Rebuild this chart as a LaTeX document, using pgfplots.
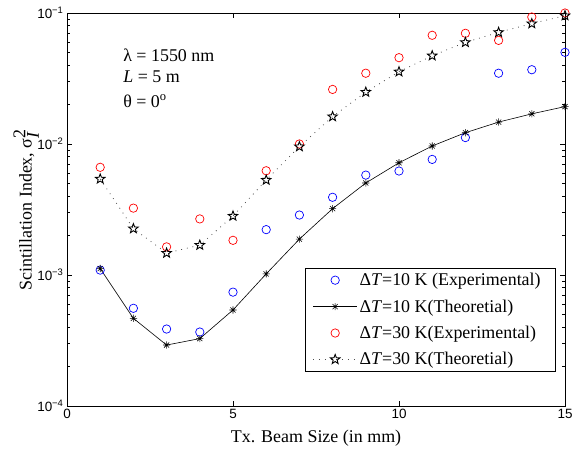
\documentclass[border=0pt]{standalone}
\usepackage{pgfplots}
\pgfplotsset{compat=1.18}
\usepackage{fontspec}
\setmainfont{Liberation Serif}
\newfontfamily\ticksf{Liberation Sans}

\pgfdeclareplotmark{pentagram}{%
  \pgfpathmoveto{\pgfpointpolar{90}{\pgfplotmarksize}}%
  \pgfpathlineto{\pgfpointpolar{126}{0.42\pgfplotmarksize}}%
  \pgfpathlineto{\pgfpointpolar{162}{\pgfplotmarksize}}%
  \pgfpathlineto{\pgfpointpolar{198}{0.42\pgfplotmarksize}}%
  \pgfpathlineto{\pgfpointpolar{234}{\pgfplotmarksize}}%
  \pgfpathlineto{\pgfpointpolar{270}{0.42\pgfplotmarksize}}%
  \pgfpathlineto{\pgfpointpolar{306}{\pgfplotmarksize}}%
  \pgfpathlineto{\pgfpointpolar{342}{0.42\pgfplotmarksize}}%
  \pgfpathlineto{\pgfpointpolar{18}{\pgfplotmarksize}}%
  \pgfpathlineto{\pgfpointpolar{54}{0.42\pgfplotmarksize}}%
  \pgfpathclose
  \pgfusepathqstroke}
\pgfdeclareplotmark{mstar}{%
  \pgfpathmoveto{\pgfqpoint{-\pgfplotmarksize}{0pt}}%
  \pgfpathlineto{\pgfqpoint{\pgfplotmarksize}{0pt}}%
  \pgfpathmoveto{\pgfqpoint{0pt}{-\pgfplotmarksize}}%
  \pgfpathlineto{\pgfqpoint{0pt}{\pgfplotmarksize}}%
  \pgfpathmoveto{\pgfpointpolar{45}{\pgfplotmarksize}}%
  \pgfpathlineto{\pgfpointpolar{225}{\pgfplotmarksize}}%
  \pgfpathmoveto{\pgfpointpolar{135}{\pgfplotmarksize}}%
  \pgfpathlineto{\pgfpointpolar{315}{\pgfplotmarksize}}%
  \pgfusepathqstroke}

\pgfplotstableread{
x y
1 1.09e-3
2 5.57e-4
3 3.87e-4
4 3.67e-4
5 7.4e-4
6 2.22e-3
7 2.87e-3
8 3.92e-3
9 5.79e-3
10 6.22e-3
11 7.63e-3
12 1.12e-2
13 3.47e-2
14 3.69e-2
15 5.01e-2
}\expten

\pgfplotstableread{
x y
1 1.12e-3
2 4.67e-4
3 2.92e-4
4 3.27e-4
5 5.41e-4
6 1.02e-3
7 1.88e-3
8 3.21e-3
9 5.04e-3
10 7.19e-3
11 9.66e-3
12 1.22e-2
13 1.47e-2
14 1.70e-2
15 1.93e-2
}\theoten

\pgfplotstableread{
x y
1 6.64e-3
2 3.24e-3
3 1.64e-3
4 2.68e-3
5 1.84e-3
6 6.25e-3
7 1.0e-2
8 2.61e-2
9 3.47e-2
10 4.56e-2
11 6.76e-2
12 7.0e-2
13 6.18e-2
14 9.32e-2
15 1.0e-1
}\expthirty

\pgfplotstableread{
x y
1 5.41e-3
2 2.26e-3
3 1.47e-3
4 1.69e-3
5 2.82e-3
6 5.31e-3
7 9.55e-3
8 1.62e-2
9 2.49e-2
10 3.56e-2
11 4.72e-2
12 5.97e-2
13 7.12e-2
14 8.3e-2
15 9.55e-2
}\theothirty

\begin{document}
\begin{tikzpicture}
\path[use as bounding box] (-67bp,-46bp) rectangle (506bp,406bp);
\begin{axis}[
  at={(0,0)}, anchor=south west,
  scale only axis,
  width=498bp, height=393bp,
  ymode=log,
  xmin=0, xmax=15, ymin=1e-4, ymax=1e-1,
  xtick={0,5,10,15},
  xticklabels={0,5,10,15},
  ytick={1e-4,1e-3,1e-2,1e-1},
  yticklabels={10\textsuperscript{−4},10\textsuperscript{−3},10\textsuperscript{−2},10\textsuperscript{−1}},
  tick label style={font=\fontsize{13.5}{16}\ticksf},
  tick align=inside,
  xtick pos=both, ytick pos=both,
  major tick length=5bp, minor tick length=3bp,
  axis line style={line width=0.8bp},
  every tick/.style={black, line width=0.6bp},
  xlabel={Tx. Beam Size (in mm)},
  ylabel={Scintillation Index, σ$^{\textrm{2}}_{\textit{I}}$},
  label style={font=\fontsize{18}{21}\selectfont},
  xlabel style={at={(axis description cs:0.5,-0.081)}, anchor=center},
  ylabel style={at={(axis description cs:-0.082,0.5)}, anchor=center},
  legend style={at={(0.982,0.087)}, anchor=south east, draw=black, line width=0.8bp,
    font=\fontsize{18}{21}\selectfont, inner xsep=7bp, inner ysep=3bp,
    row sep=8.5bp, cells={anchor=west}},
  legend image code/.code={\draw[mark repeat=2,mark phase=2,#1] plot coordinates {(0bp,0bp) (22bp,0bp) (44bp,0bp)};},
]
\addplot[only marks, mark=o, mark size=4.2bp, blue, mark options={line width=0.7bp}] table {\expten};
\addlegendentry{Δ\textit{T}=10 K (Experimental)\hspace*{6bp}}
\addplot[black, line width=0.6bp, mark=mstar, mark size=3.6bp, mark options={line width=0.6bp, solid}] table {\theoten};
\addlegendentry{Δ\textit{T}=10 K(Theoretial)}
\addplot[only marks, mark=o, mark size=4.2bp, red, mark options={line width=0.7bp}] table {\expthirty};
\addlegendentry{Δ\textit{T}=30 K(Experimental)}
\addplot[black!70, line width=0.8bp, dash pattern=on 0.8bp off 5bp, mark=pentagram, mark size=5bp, mark options={line width=0.9bp, solid, black}] table {\theothirty};
\addlegendentry{Δ\textit{T}=30 K(Theoretial)}
\node[anchor=west, font=\fontsize{18}{21}\selectfont] at (rel axis cs:0.106,0.893) {λ = 1550 nm};
\node[anchor=west, font=\fontsize{18}{21}\selectfont] at (rel axis cs:0.106,0.837) {\textit{L} = 5 m};
\node[anchor=west, font=\fontsize{18}{21}\selectfont] at (rel axis cs:0.106,0.776) {θ = 0\textsuperscript{o}};
\end{axis}
\end{tikzpicture}
\end{document}
